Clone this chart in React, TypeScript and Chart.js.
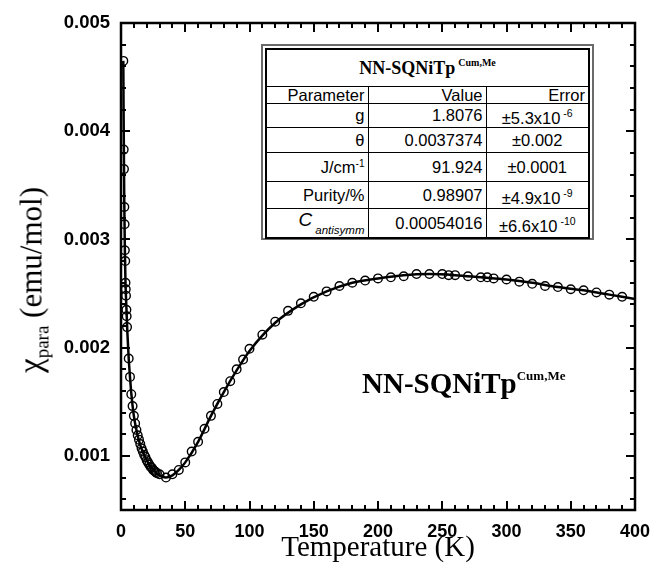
import React, { useEffect, useRef } from 'react';
import { Chart, registerables } from 'chart.js';

Chart.register(...registerables);

// Measured data (temperature in K, chi in emu/mol)
const dataT = [
  1.8, 2.1, 2.3, 2.6, 2.8, 3.0, 3.3, 3.5, 3.7, 3.9, 4.2, 4.4, 4.7,
  6, 7, 8, 9, 10, 11, 12, 13, 14, 15, 16, 17, 18, 19, 20, 21, 22, 23, 24, 25, 26, 27, 28,
  30, 35, 40, 45, 50, 55, 60, 65, 70, 75, 80, 85, 90, 95, 100,
  110, 120, 130, 140, 150, 160, 170, 180, 190, 200, 210, 220, 230, 240, 250, 255, 260,
  270, 280, 285, 290, 300, 310, 320, 330, 340, 350, 360, 370, 380, 390,
];
const dataChi = [
  0.00465, 0.00383, 0.00365, 0.0033, 0.00314, 0.0029, 0.0028, 0.0026, 0.00254, 0.00248, 0.00235, 0.00229, 0.00219,
  0.0019, 0.00173, 0.00157, 0.00146, 0.00137, 0.0013, 0.00124, 0.00119, 0.00115, 0.00111, 0.00107, 0.00104,
  0.00101, 0.00099, 0.00096, 0.00094, 0.00092, 0.0009, 0.00089, 0.00087, 0.00086, 0.00085, 0.00084,
  0.00083, 0.0008, 0.00083, 0.00087, 0.00094, 0.00104, 0.00113, 0.00125, 0.00137, 0.00148, 0.00159, 0.00169,
  0.0018, 0.00189, 0.00199,
  0.00212, 0.00224, 0.00234, 0.00241, 0.00247, 0.00252, 0.00257, 0.0026, 0.00262, 0.00264, 0.00265, 0.00266,
  0.00268, 0.00268, 0.00268, 0.00267, 0.00267,
  0.00266, 0.00265, 0.00265, 0.00264, 0.00263, 0.00261, 0.00259, 0.00257, 0.00256, 0.00254, 0.00253, 0.00251,
  0.00249, 0.00247,
];

// Fitted curve
const fitT = [
  1.8, 2, 2.5, 3, 3.5, 4, 5, 6, 7, 8, 10, 12, 15, 18, 21, 25, 30, 35, 40, 45, 50, 60, 70, 80, 90, 100,
  120, 140, 160, 180, 200, 220, 240, 260, 280, 300, 320, 340, 360, 380, 400,
];
const fitChi = [
  0.00465, 0.0042, 0.0034, 0.0029, 0.0026, 0.00243, 0.00213, 0.0019, 0.00173, 0.00158, 0.00137, 0.00124,
  0.0011, 0.00101, 0.00094, 0.00087, 0.00082, 0.0008, 0.00082, 0.00087, 0.00094, 0.00113, 0.00137, 0.00159,
  0.00179, 0.00197, 0.00223, 0.0024, 0.00252, 0.0026, 0.00264, 0.00267, 0.00268, 0.00267, 0.00265, 0.00263,
  0.0026, 0.00256, 0.00253, 0.00249, 0.00245,
];

const xTicks = [0, 50, 100, 150, 200, 250, 300, 350, 400];
const yTicks = [0.001, 0.002, 0.003, 0.004, 0.005];
const xRange = [0, 400];
const yRange = [0.0005, 0.005];
const xMinorStep = 10;
const xMajorStep = 50;
const yMinorStep = 0.0002;
const yMajorStep = 0.001;

// Fit-parameter table
const tableTitle = 'NN-SQNiTp';
const tableTitleSup = 'Cum,Me';
const paramNames = ['g', 'θ', 'J/cm', 'Purity/%', 'C'];
const paramSups = ['', '', '-1', '', ''];
const paramSubs = ['', '', '', '', 'antisymm'];
const paramValues = ['1.8076', '0.0037374', '91.924', '0.98907', '0.00054016'];
const paramErrors = ['±5.3x10', '±0.002', '±0.0001', '±4.9x10', '±6.6x10'];
const paramErrorExps = [' -6', '', '', ' -9', ' -10'];

const frameTicksPlugin = {
  id: 'frameTicks',
  afterDraw(chart: any) {
    const { ctx, chartArea: a, scales } = chart;
    const x = scales.x;
    const y = scales.y;
    ctx.save();
    ctx.strokeStyle = '#000';
    ctx.lineWidth = 2;
    ctx.lineCap = 'butt';
    const seg = (x1: number, y1: number, x2: number, y2: number) => {
      ctx.beginPath();
      ctx.moveTo(x1, y1);
      ctx.lineTo(x2, y2);
      ctx.stroke();
    };
    const k0 = Math.ceil(x.min / xMinorStep - 1e-9);
    const k1 = Math.floor(x.max / xMinorStep + 1e-9);
    for (let k = k0; k <= k1; k++) {
      const v = k * xMinorStep;
      const px = Math.round(x.getPixelForValue(v));
      const r = v / xMajorStep;
      const major = Math.abs(r - Math.round(r)) < 1e-6;
      const len = major ? 9 : 5;
      seg(px, a.bottom, px, a.bottom - len);
      seg(px, a.top, px, a.top + len);
    }
    const j0 = Math.ceil(y.min / yMinorStep - 1e-9);
    const j1 = Math.floor(y.max / yMinorStep + 1e-9);
    for (let j = j0; j <= j1; j++) {
      const v = j * yMinorStep;
      const py = Math.round(y.getPixelForValue(v));
      const r = v / yMajorStep;
      const major = Math.abs(r - Math.round(r)) < 1e-6;
      const len = major ? 9 : 5;
      seg(a.left, py, a.left + len, py);
      seg(a.right, py, a.right - len, py);
    }
    ctx.lineWidth = 2.5;
    ctx.strokeRect(a.left, a.top, a.right - a.left, a.bottom - a.top);
    ctx.restore();
  },
};

export default function App() {
  const canvasRef = useRef<HTMLCanvasElement | null>(null);

  useEffect(() => {
    if (!canvasRef.current) return;
    const points = dataT.map((t, i) => ({ x: t, y: dataChi[i] }));
    const fit = fitT.map((t, i) => ({ x: t, y: fitChi[i] }));
    const chart = new Chart(canvasRef.current, {
      type: 'scatter',
      data: {
        datasets: [
          {
            label: 'data',
            data: points,
            showLine: false,
            pointStyle: 'circle',
            pointRadius: 4.3,
            pointBorderWidth: 1.4,
            pointBorderColor: '#000',
            pointBackgroundColor: 'rgba(0,0,0,0)',
          },
          {
            label: 'fit',
            data: fit,
            showLine: true,
            borderColor: '#000',
            borderWidth: 2.5,
            pointRadius: 0,
            cubicInterpolationMode: 'monotone',
          } as any,
        ],
      },
      options: {
        animation: false,
        responsive: false,
        maintainAspectRatio: false,
        layout: { padding: { left: 0, right: 17, top: 23, bottom: 6 } },
        plugins: {
          legend: { display: false },
          tooltip: { enabled: false },
        },
        scales: {
          x: {
            type: 'linear',
            min: xRange[0],
            max: xRange[1],
            grid: { display: false, drawTicks: false },
            border: { display: false },
            afterBuildTicks: (s: any) => {
              s.ticks = xTicks.map((v) => ({ value: v }));
            },
            afterFit: (s: any) => {
              s.height = 56;
              s.paddingLeft = 0;
              s.paddingRight = 0;
            },
            ticks: {
              color: '#000',
              padding: 11,
              maxRotation: 0,
              autoSkip: false,
              font: { family: 'Liberation Sans', weight: 'bold', size: 18 },
              callback: (v: any) => String(v),
            },
            title: {
              display: true,
              text: 'Temperature (K)',
              color: '#000',
              padding: { top: 0, bottom: 0 },
              font: { family: 'Liberation Serif', size: 29 },
            },
          },
          y: {
            type: 'linear',
            min: yRange[0],
            max: yRange[1],
            grid: { display: false, drawTicks: false },
            border: { display: false },
            afterBuildTicks: (s: any) => {
              s.ticks = yTicks.map((v) => ({ value: v }));
            },
            afterFit: (s: any) => {
              s.width = 121;
              s.paddingTop = 0;
              s.paddingBottom = 0;
            },
            ticks: {
              color: '#000',
              padding: 11,
              autoSkip: false,
              font: { family: 'Liberation Sans', weight: 'bold', size: 18.5 },
              callback: (v: any) => Number(v).toFixed(3),
            },
          },
        },
      },
      plugins: [frameTicksPlugin],
    });
    return () => chart.destroy();
  }, []);

  const cellFont: React.CSSProperties = {
    fontFamily: '"Liberation Sans", Arial, sans-serif',
    fontSize: 16.5,
    color: '#000',
  };
  const cell: React.CSSProperties = {
    ...cellFont,
    border: '1.5px solid #000',
    padding: '0 3px',
    lineHeight: 1,
    whiteSpace: 'nowrap',
  };
  const rowHeights = [24, 25, 29, 27, 29];

  return (
    <div style={{ position: 'absolute', left: 0, top: 0, width: 652, height: 572, background: '#fff' }}>
      <canvas ref={canvasRef} width={652} height={572} style={{ display: 'block' }} />

      {/* y-axis title */}
      <div
        style={{
          position: 'absolute',
          left: 31,
          top: 280,
          transform: 'translate(-50%, -50%) rotate(-90deg)',
          whiteSpace: 'nowrap',
          fontFamily: '"Liberation Serif", "Times New Roman", serif',
          fontSize: 31,
          color: '#000',
          lineHeight: 1,
        }}
      >
        <span style={{ fontSize: 33 }}>χ</span>
        <span style={{ fontSize: 19, position: 'relative', top: 7 }}>para</span> (emu/mol)
      </div>

      {/* in-plot annotation */}
      <div
        style={{
          position: 'absolute',
          left: 362,
          top: 369,
          whiteSpace: 'nowrap',
          fontFamily: '"Liberation Serif", "Times New Roman", serif',
          fontWeight: 'bold',
          fontSize: 29,
          lineHeight: 1,
          color: '#000',
        }}
      >
        {tableTitle}
        <span style={{ fontSize: 13, position: 'relative', top: -13 }}>{tableTitleSup}</span>
      </div>

      {/* parameter table */}
      <div
        style={{
          position: 'absolute',
          left: 261,
          top: 44,
          width: 333,
          height: 196,
          boxSizing: 'border-box',
          border: '2px solid #6a6a6a',
          padding: 2,
          background: '#fff',
        }}
      >
        <table
          style={{
            borderCollapse: 'collapse',
            width: '100%',
            height: '100%',
            border: '2px solid #000',
            tableLayout: 'fixed',
          }}
        >
          <colgroup>
            <col style={{ width: 102 }} />
            <col style={{ width: 118 }} />
            <col />
          </colgroup>
          <tbody>
            <tr style={{ height: 37 }}>
              <td
                colSpan={3}
                style={{
                  ...cell,
                  textAlign: 'center',
                  fontFamily: '"Liberation Serif", "Times New Roman", serif',
                  fontWeight: 'bold',
                  fontSize: 18,
                }}
              >
                {tableTitle}
                <span style={{ fontSize: 10, position: 'relative', top: -8, marginLeft: 3 }}>{tableTitleSup}</span>
              </td>
            </tr>
            <tr style={{ height: 17 }}>
              <td style={{ ...cell, textAlign: 'right' }}>Parameter</td>
              <td style={{ ...cell, textAlign: 'right' }}>Value</td>
              <td style={{ ...cell, textAlign: 'right' }}>Error</td>
            </tr>
            {paramNames.map((name, i) => (
              <tr key={name} style={{ height: rowHeights[i] }}>
                <td style={{ ...cell, textAlign: 'right' }}>
                  {paramSubs[i] ? (
                    <>
                      <span style={{ fontStyle: 'italic', fontSize: 19, position: 'relative', top: -3 }}>{name}</span>
                      <span style={{ fontStyle: 'italic', fontSize: 11.5, position: 'relative', top: 5, marginLeft: 3 }}>
                        {paramSubs[i]}
                      </span>
                    </>
                  ) : (
                    <>
                      {name}
                      {paramSups[i] ? (
                        <span style={{ fontSize: 10, position: 'relative', top: -6 }}>{paramSups[i]}</span>
                      ) : null}
                    </>
                  )}
                </td>
                <td style={{ ...cell, textAlign: 'right' }}>{paramValues[i]}</td>
                <td style={{ ...cell, textAlign: 'center' }}>
                  <span style={{ position: 'relative', top: paramErrorExps[i] ? 3 : 0 }}>
                    {paramErrors[i]}
                    {paramErrorExps[i] ? (
                      <span style={{ fontSize: 10.5, position: 'relative', top: -7, whiteSpace: 'pre' }}>
                        {paramErrorExps[i]}
                      </span>
                    ) : null}
                  </span>
                </td>
              </tr>
            ))}
          </tbody>
        </table>
      </div>
    </div>
  );
}
